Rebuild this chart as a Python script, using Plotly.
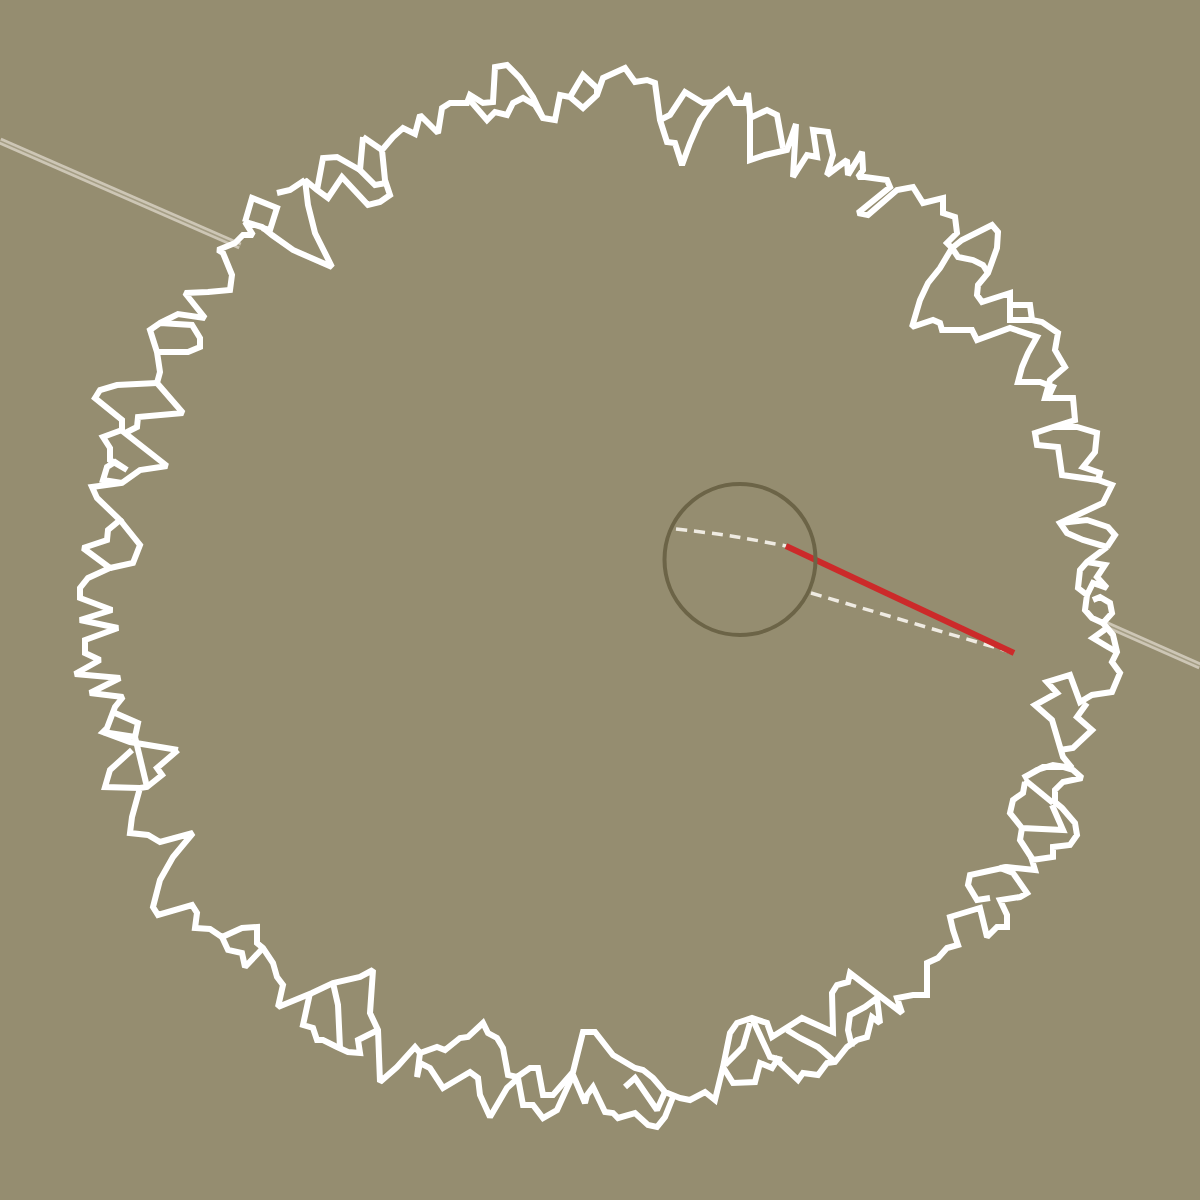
import plotly.graph_objects as go

# ---- data: outline pieces of the jagged ring (x, y in the chart's 0..1200 frame, y downward) ----
ring_main = [
    (178,750),(130,742),(103,732),(107,728),(115,707),(123,697),(90,693),(120,678),(75,674),(100,660),
    (85,653),(85,640),(118,628),(80,620),(112,610),(80,598),(80,588),(88,578),(110,568),(83,548),
    (107,540),(108,530),(120,520),(97,498),(92,487),(122,483),(140,470),(167,466),(125,433),(137,427),
    (138,417),(183,413),(157,383),(160,372),(157,352),(188,352),(200,347),(200,338),(192,325),(160,323),
    (150,330),(157,352)]
ring_upper_left = [
    (160,323),(178,314),(205,318),(185,293),(208,292),(230,290),(232,275),(223,253),(218,250),(235,243),
    (243,235),(253,235),(245,222),(262,227),(272,235),(293,250),(332,267),(315,233),(308,205),(305,180),
    (317,190),(328,198),(342,177),(368,205),(380,202),(390,195),(385,180),(382,150),(393,137),(403,128),
    (415,134),(420,115),(433,128),(438,133),(442,108),(450,103),(467,103),(470,95),(483,103),(493,102),
    (495,67),(507,65),(520,78),(533,97),(543,118),(555,120),(560,95),(570,97),(583,108),(597,95),
    (603,78),(625,68),(635,82),(647,80),(655,83),(660,120),(667,142),(675,143),(682,165),(690,143),
    (700,120),(713,102),(728,90),(735,103),(745,103),(748,93),(750,115),(750,160),(765,155),(787,150),
    (796,124),(793,177),(807,155),(817,157),(813,130),(828,132),(833,155),(827,175),(847,160),(848,175),
    (862,152),(863,170),(858,177),(865,177),(887,180),(890,187),(858,213),(868,215),(897,190),(913,187),
    (923,203),(943,198),(943,213),(955,217),(957,233),(947,243),(952,248),(962,240),(992,225),(998,232),
    (997,248),(988,273),(978,285),(977,295),(982,302),(1010,293),(1010,320),(1032,320),(1042,322),(1058,333),
    (1055,350),(1065,367),(1050,380),(1045,398),(1073,398),(1075,420),(1053,427),(1035,433),(1037,445),(1058,447),
    (1062,475),(1098,480),(1112,485),(1103,503),(1060,523),(1067,533),(1083,540),(1107,547),(1087,562),(1080,570),
    (1078,588),(1087,595),(1085,610),(1092,618),(1103,623),(1112,613),(1110,603),(1100,597),(1093,600)]
ring_right_low = [
    (1103,623),(1107,628),(1113,635),(1117,652),(1112,662),(1120,673),(1112,692),(1092,695),(1080,702),(1070,675),
    (1047,682),(1057,693),(1035,705),(1052,720),(1060,750),(1063,757),(1072,768),(1053,765),(1037,770),(1023,778),
    (1043,767),(1063,767),(1073,770),(1082,778),(1063,782),(1055,790),(1055,802),(1062,808),(1075,823),(1077,835),
    (1070,845),(1053,847),(1053,857),(1032,860),(1035,870),(1007,867),(1000,868),(1013,873),(1027,893),(1020,897),
    (1000,900),(1007,915),(1007,927),(997,927),(987,937),(980,908),(950,917),(953,930),(958,945),(947,948),
    (938,958),(927,963),(927,995),(913,995),(897,998),(902,1013),(873,990),(850,973),(848,982),(837,985),
    (832,993),(833,1032),(802,1018),(787,1027),(772,1037),(767,1023),(752,1018),(737,1023),(730,1033),(723,1067),
    (715,1100),(705,1092),(690,1100),(680,1098),(665,1092),(653,1078),(643,1070),(635,1068),(625,1062),(613,1055),
    (595,1032),(583,1032),(573,1072),(553,1095),(543,1095),(538,1068),(530,1068),(517,1077),(508,1075),(503,1048),
    (497,1038),(488,1033),(483,1023),(468,1037),(460,1038),(445,1050),(437,1047),(420,1053),(415,1047),(397,1067),
    (380,1082),(378,1030),(370,1013),(373,970),(360,977),(333,983),(312,993),(278,1007),(283,985),(277,977),
    (273,963),(263,948),(257,943),(257,927),(242,928),(222,937),(210,929),(195,928),(197,913),(192,905),
    (158,915),(153,907),(160,880),(173,857),(193,833),(160,842),(148,835),(130,833),(132,817),(140,788),
    (147,787),(162,775),(157,768),(178,750)]
ring_extras = [
    [(110,568),(133,563),(140,545),(130,533),(120,520)],
    [(122,483),(103,480),(107,467),(115,462),(127,470),(110,460),(110,448),(103,437),(122,430),(122,420),
     (95,398),(100,390),(117,385),(157,383)],
    [(363,137),(382,150)],
    [(363,137),(360,170),(375,185),(386,183)],
    [(360,170),(337,157),(323,158),(317,190)],
    [(245,222),(252,198),(277,208),(270,230),(262,228)],
    [(277,193),(290,190),(305,180)],
    [(468,98),(487,120),(495,112),(507,115),(513,103),(523,98),(535,105),(543,118)],
    [(570,97),(583,75),(597,88),(597,95)],
    [(660,120),(670,115),(685,92),(703,103),(713,102)],
    [(750,118),(767,110),(777,115),(783,148)],
    [(952,248),(940,268),(928,283),(920,300),(912,327),(933,320),(940,323),(942,330),(972,330),(977,340),
     (1010,328),(1037,337),(1028,353),(1022,367),(1018,382),(1040,382),(1053,387),(1047,400)],
    [(952,248),(958,257),(973,260),(983,265),(988,273)],
    [(1010,305),(1030,305),(1032,320)],
    [(1053,427),(1077,427),(1097,433),(1095,452),(1083,467),(1100,473),(1098,480)],
    [(1060,523),(1087,520),(1108,527),(1115,535),(1107,547)],
    [(1087,595),(1093,583),(1107,588),(1097,577),(1105,565),(1087,562)],
    [(1107,628),(1093,638),(1108,647),(1117,652)],
    [(1060,750),(1073,748),(1092,730),(1077,717),(1087,703)],
    [(1025,780),(1053,803)],
    [(1025,782),(1023,793),(1013,800),(1010,813),(1022,828),(1063,830),(1052,805)],
    [(1022,828),(1020,840),(1033,860)],
    [(1007,867),(970,875),(968,885),(977,900),(990,898)],
    [(723,1067),(733,1083),(755,1082),(760,1063),(772,1068),(777,1060),(798,1080),(803,1073),(818,1075),
     (827,1063),(835,1062),(847,1047),(857,1040),(867,1037),(872,1017),(880,1023),(877,998),(865,1007),
     (850,1015),(848,1030),(852,1047)],
    [(725,1065),(743,1047),(750,1023)],
    [(752,1018),(770,1057),(782,1060)],
    [(787,1030),(800,1038),(818,1047),(835,1062)],
    [(673,1097),(665,1117),(657,1127),(648,1125),(635,1113),(618,1118),(613,1113),(605,1112),(593,1087),
     (587,1095),(585,1103),(573,1075),(557,1110),(543,1118),(533,1105),(523,1105),(518,1078),(507,1088),
     (490,1117),(480,1095),(478,1078),(470,1072),(443,1088),(430,1068),(420,1063),(417,1077),(420,1053)],
    [(625,1087),(635,1078),(657,1110),(665,1092)],
    [(378,1030),(358,1040),(360,1053),(348,1052),(337,1047),(323,1040),(317,1040),(313,1028),(303,1025),(310,993)],
    [(333,983),(338,1005),(340,1048)],
    [(222,937),(228,950),(242,953),(245,967),(263,948)],
    [(115,713),(132,720),(138,723),(135,737),(103,732)],
    [(135,737),(140,760),(147,787)],
    [(132,750),(110,770),(105,787),(140,788)],
]

# ---- other marks ----
axis_line_x = [[0, 240], [1105, 1200]]
axis_line_y = [[141, 246], [624, 666]]
red_x, red_y = [786, 1014], [546, 653]
dash1_x, dash1_y = [676, 731, 786], [529, 536, 546]
dash2_x, dash2_y = [811, 1014], [593, 653]
circle_cx, circle_cy, circle_r = 740, 559.5, 75.5

BG = "#958D70"

pieces = [ring_main, ring_upper_left, ring_right_low] + ring_extras
rx, ry = [], []
for p in pieces:
    rx += [pt[0] for pt in p] + [None]
    ry += [pt[1] for pt in p] + [None]

fig = go.Figure()
for xs, ys in zip(axis_line_x, axis_line_y):
    fig.add_trace(go.Scatter(x=xs, y=ys, mode="lines", line=dict(color="#cdc6b5", width=7), hoverinfo="skip"))
    fig.add_trace(go.Scatter(x=xs, y=ys, mode="lines", line=dict(color="#a49d84", width=1.5), hoverinfo="skip"))

fig.add_trace(go.Scatter(x=rx, y=ry, mode="lines", connectgaps=False,
                         line=dict(color="white", width=6), hoverinfo="skip"))

fig.add_shape(type="circle", xref="x", yref="y",
              x0=circle_cx - circle_r, x1=circle_cx + circle_r,
              y0=circle_cy - circle_r, y1=circle_cy + circle_r,
              line=dict(color="#6c6447", width=4))

fig.add_trace(go.Scatter(x=dash1_x, y=dash1_y, mode="lines", line=dict(color="#efebe2", width=3.5, dash="11px,7px", shape="spline"), hoverinfo="skip"))
fig.add_trace(go.Scatter(x=dash2_x, y=dash2_y, mode="lines", line=dict(color="#efebe2", width=3.5, dash="11px,7px"), hoverinfo="skip"))
fig.add_trace(go.Scatter(x=red_x, y=red_y, mode="lines", line=dict(color="#cc2a2a", width=6), hoverinfo="skip"))

fig.update_layout(
    width=1200, height=1200,
    margin=dict(l=0, r=0, t=0, b=0),
    paper_bgcolor=BG, plot_bgcolor=BG,
    showlegend=False,
    xaxis=dict(range=[0, 1200], visible=False, fixedrange=True),
    yaxis=dict(range=[1200, 0], visible=False, fixedrange=True),
)
fig.write_html("out.html", config={"displayModeBar": False},
               post_script="document.body.style.margin='0';document.body.style.overflow='hidden';document.body.style.background='" + BG + "';")
